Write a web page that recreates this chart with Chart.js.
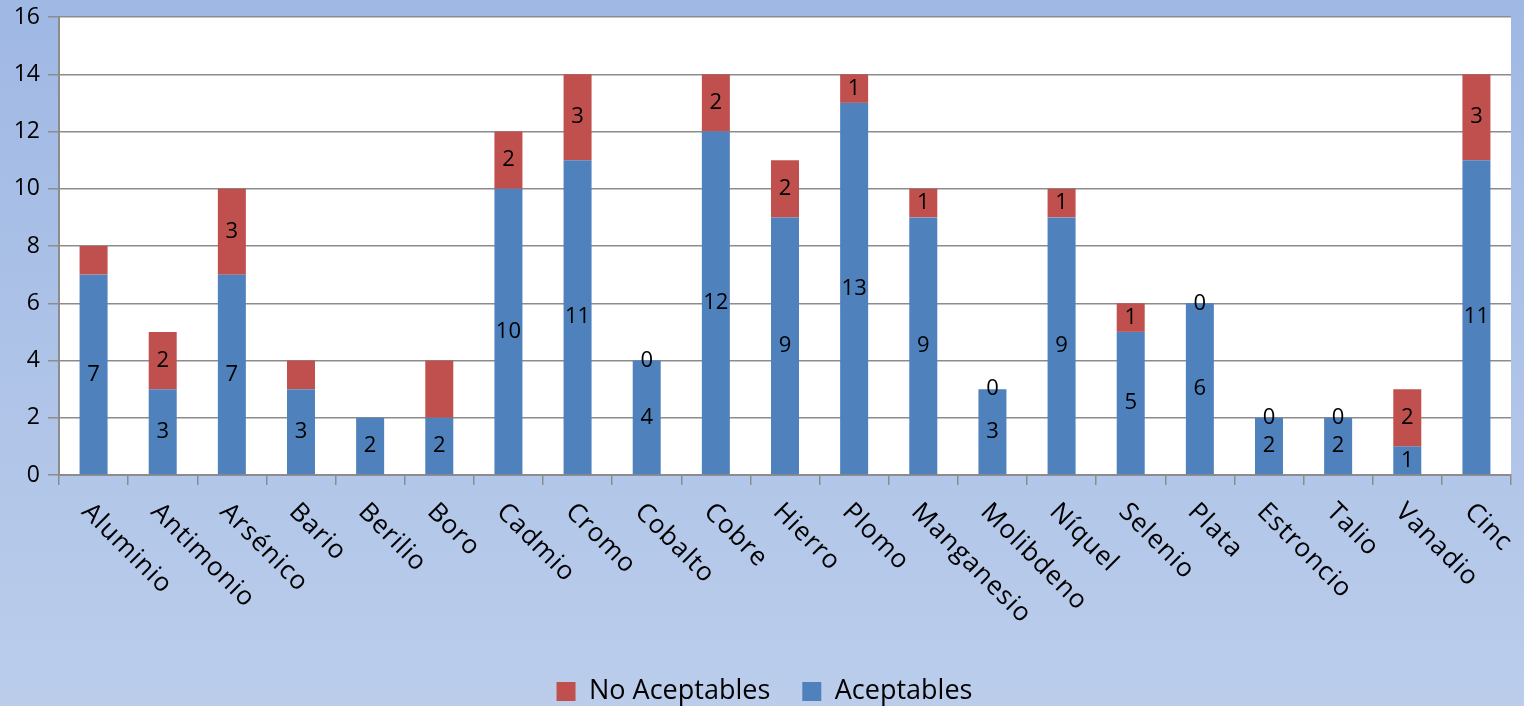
<!DOCTYPE html>
<html>
<head>
<meta charset="utf-8">
<script src="https://cdn.jsdelivr.net/npm/chart.js"></script>
<style>
  html, body { margin: 0; padding: 0; }
  #contenedor { width: 1524px; height: 706px; }
</style>
</head>
<body>
<div id="contenedor"><canvas id="grafico"></canvas></div>
<script>
// Datos
const elementos = [
  'Aluminio', 'Antimonio', 'Arsénico', 'Bario', 'Berilio', 'Boro', 'Cadmio',
  'Cromo', 'Cobalto', 'Cobre', 'Hierro', 'Plomo', 'Manganesio', 'Molibdeno',
  'Níquel', 'Selenio', 'Plata', 'Estroncio', 'Talio', 'Vanadio', 'Cinc'
]
const aceptables = [7, 3, 7, 3, 2, 2, 10, 11, 4, 12, 9, 13, 9, 3, 9, 5, 6, 2, 2, 1, 11]
const noAceptables = [1, 2, 3, 1, 0, 2, 2, 3, 0, 2, 2, 1, 1, 0, 1, 1, 0, 0, 0, 2, 3]
// En el original algunas etiquetas de "No Aceptables" no aparecen
const noAceptablesConEtiqueta = [
  false, true, true, false, false, false, true, true, true, true, true,
  true, true, true, true, true, true, true, true, true, true
]

const fuente = "'Open Sans', sans-serif"
const gris = '#8c8c8c'

// Fondo degradado azul y área de trazado blanca
const fondo = {
  id: 'fondo',
  afterLayout(chart) {
    // la leyenda del original queda algo más abajo y a la derecha
    const lg = chart.legend
    if (lg) {
      lg.top += 9
      lg.bottom += 9
      lg.left += 9
      lg.right += 9
    }
  },
  beforeDraw(chart) {
    const { ctx, width, height, chartArea } = chart
    const grad = ctx.createLinearGradient(0, 0, 0, height)
    grad.addColorStop(0, '#9fb8e4')
    grad.addColorStop(1, '#bbcdeb')
    ctx.save()
    ctx.fillStyle = grad
    ctx.fillRect(0, 0, width, height)
    ctx.fillStyle = '#ffffff'
    ctx.fillRect(chartArea.left, chartArea.top, chartArea.right - chartArea.left, chartArea.bottom - chartArea.top)
    ctx.restore()
  }
}

// Etiquetas de valor centradas en cada segmento
const etiquetas = {
  id: 'etiquetas',
  afterDatasetsDraw(chart) {
    const { ctx } = chart
    ctx.save()
    ctx.font = `22px ${fuente}`
    ctx.fillStyle = '#000'
    ctx.textAlign = 'center'
    ctx.textBaseline = 'middle'
    chart.data.datasets.forEach((ds, di) => {
      const meta = chart.getDatasetMeta(di)
      meta.data.forEach((bar, i) => {
        if (di === 1 && !noAceptablesConEtiqueta[i]) return
        ctx.fillText(String(ds.data[i]), bar.x, (bar.y + bar.base) / 2)
      })
    })
    ctx.restore()
  }
}

// Nombres del eje X girados 45° hacia abajo
const nombresX = {
  id: 'nombresX',
  afterDraw(chart) {
    const { ctx, chartArea } = chart
    const x = chart.scales.x
    ctx.save()
    ctx.font = `26px ${fuente}`
    ctx.letterSpacing = '1px'
    ctx.fillStyle = '#000'
    ctx.textAlign = 'left'
    ctx.textBaseline = 'alphabetic'
    elementos.forEach((nombre, i) => {
      ctx.save()
      ctx.translate(x.getPixelForValue(i) - 13, chartArea.bottom + 38)
      ctx.rotate(Math.PI / 4)
      ctx.fillText(nombre, 0, 0)
      ctx.restore()
    })
    ctx.restore()
  }
}

new Chart(document.getElementById('grafico'), {
  type: 'bar',
  data: {
    labels: elementos,
    datasets: [
      {
        label: 'Aceptables',
        data: aceptables,
        backgroundColor: '#4f81bd',
        barPercentage: 0.405,
        categoryPercentage: 1
      },
      {
        label: 'No Aceptables',
        data: noAceptables,
        backgroundColor: '#c0504d',
        barPercentage: 0.405,
        categoryPercentage: 1
      }
    ]
  },
  options: {
    responsive: true,
    maintainAspectRatio: false,
    animation: false,
    layout: { padding: { top: 17, right: 13, left: 0, bottom: 0 } },
    plugins: {
      legend: {
        position: 'bottom',
        reverse: true,
        labels: {
          color: '#000',
          font: { family: fuente, size: 27 },
          boxWidth: 19,
          boxHeight: 19,
          padding: 32
        }
      },
      tooltip: { enabled: false }
    },
    scales: {
      x: {
        stacked: true,
        grid: { offset: true, drawOnChartArea: false, drawTicks: true, tickLength: 10, color: gris, lineWidth: 1.5 },
        border: { display: true, color: gris, width: 2 },
        ticks: { display: false },
        afterFit(scale) {
          scale.height = 706 - 475 - scale.chart.legend.height
          scale.paddingLeft = 0
          scale.paddingRight = 0
        }
      },
      y: {
        stacked: true,
        min: 0,
        max: 16,
        ticks: { stepSize: 2, color: '#000', font: { family: fuente, size: 23 }, padding: 8 },
        grid: { color: gris, lineWidth: 1.5, tickLength: 11 },
        border: { display: true, color: gris, width: 2 },
        afterFit(scale) {
          scale.width = 59
          scale.paddingTop = 0
          scale.paddingBottom = 0
        }
      }
    }
  },
  plugins: [fondo, etiquetas, nombresX]
})
</script>
</body>
</html>
